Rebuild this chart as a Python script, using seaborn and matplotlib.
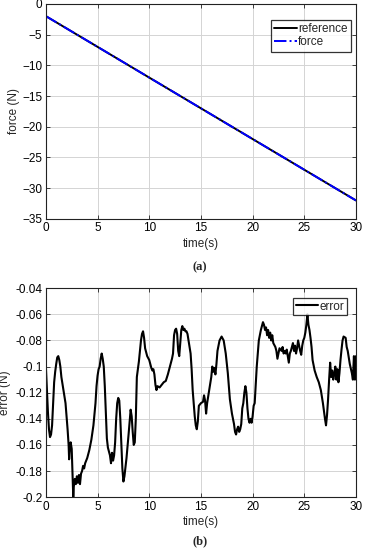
import numpy as np
import pandas as pd
import matplotlib
matplotlib.use("Agg")
import matplotlib.pyplot as plt
import seaborn as sns

# panel (a): reference and measured force
time_a = [0, 5, 10, 15, 20, 25, 30]
reference = [-2, -7, -12, -17, -22, -27, -32]
force = [-2, -7, -12, -17, -22, -27, -32]

# panel (b): force tracking error (10 values per row)
time_b = [0.0, 0.1, 0.2, 0.3, 0.4, 0.5, 0.6, 0.7, 0.8, 0.9,
          1.0, 1.1, 1.2, 1.3, 1.4, 1.5, 1.7, 1.9, 2.0, 2.1,
          2.2, 2.25, 2.3, 2.4, 2.5, 2.55, 2.6, 2.65, 2.7, 2.8,
          2.9, 3.0, 3.1, 3.2, 3.3, 3.4, 3.5, 3.6, 3.7, 3.8,
          3.9, 4.0, 4.2, 4.4, 4.6, 4.8, 4.9, 5.0, 5.1, 5.2,
          5.3, 5.4, 5.5, 5.6, 5.7, 5.8, 5.9, 6.0, 6.2, 6.3,
          6.4, 6.5, 6.6, 6.7, 6.8, 6.9, 7.0, 7.1, 7.2, 7.3,
          7.4, 7.5, 7.6, 7.8, 8.0, 8.1, 8.2, 8.3, 8.4, 8.5,
          8.6, 8.7, 8.8, 9.0, 9.1, 9.2, 9.3, 9.4, 9.5, 9.6,
          9.8, 10.0, 10.1, 10.2, 10.3, 10.4, 10.5, 10.6, 10.7, 10.8,
          11.0, 11.2, 11.4, 11.6, 11.8, 12.0, 12.2, 12.3, 12.4, 12.5,
          12.6, 12.7, 12.8, 12.9, 13.0, 13.1, 13.2, 13.3, 13.4, 13.5,
          13.6, 13.7, 13.8, 14.0, 14.1, 14.2, 14.4, 14.5, 14.6, 14.7,
          14.8, 15.0, 15.2, 15.3, 15.4, 15.5, 15.6, 15.8, 16.0, 16.1,
          16.2, 16.3, 16.4, 16.5, 16.6, 16.8, 17.0, 17.2, 17.4, 17.6,
          17.8, 18.0, 18.1, 18.2, 18.3, 18.4, 18.5, 18.6, 18.7, 18.8,
          18.9, 19.0, 19.1, 19.2, 19.3, 19.4, 19.5, 19.6, 19.7, 19.8,
          19.9, 20.0, 20.1, 20.2, 20.4, 20.6, 20.8, 21.0, 21.1, 21.2,
          21.3, 21.4, 21.5, 21.6, 21.7, 21.8, 21.9, 22.0, 22.2, 22.3,
          22.4, 22.5, 22.6, 22.8, 22.9, 23.0, 23.1, 23.2, 23.3, 23.4,
          23.5, 23.6, 23.7, 23.8, 23.9, 24.0, 24.1, 24.2, 24.3, 24.4,
          24.5, 24.6, 24.7, 24.8, 24.9, 25.0, 25.1, 25.2, 25.3, 25.4,
          25.5, 25.6, 25.7, 25.8, 26.0, 26.2, 26.4, 26.6, 26.8, 27.0,
          27.1, 27.2, 27.3, 27.4, 27.5, 27.6, 27.7, 27.8, 27.9, 28.0,
          28.1, 28.2, 28.3, 28.4, 28.5, 28.6, 28.7, 28.8, 29.0, 29.1,
          29.2, 29.4, 29.6, 29.7, 29.8, 29.9, 30.0]
error = [-0.100, -0.118, -0.135, -0.148, -0.154, -0.152, -0.145, -0.128, -0.112, -0.104,
         -0.098, -0.093, -0.092, -0.095, -0.100, -0.108, -0.118, -0.128, -0.138, -0.148,
         -0.160, -0.171, -0.165, -0.158, -0.163, -0.175, -0.185, -0.200, -0.192, -0.186,
         -0.190, -0.184, -0.189, -0.183, -0.190, -0.182, -0.180, -0.176, -0.178, -0.174,
         -0.172, -0.170, -0.164, -0.156, -0.145, -0.128, -0.115, -0.107, -0.102, -0.100,
         -0.094, -0.090, -0.094, -0.100, -0.115, -0.135, -0.155, -0.162, -0.168, -0.174,
         -0.166, -0.172, -0.168, -0.158, -0.140, -0.128, -0.124, -0.126, -0.140, -0.160,
         -0.178, -0.188, -0.184, -0.170, -0.152, -0.142, -0.133, -0.138, -0.150, -0.160,
         -0.158, -0.140, -0.108, -0.096, -0.088, -0.080, -0.075, -0.073, -0.078, -0.086,
         -0.092, -0.095, -0.098, -0.101, -0.103, -0.102, -0.106, -0.114, -0.118, -0.115,
         -0.116, -0.114, -0.112, -0.111, -0.106, -0.100, -0.094, -0.090, -0.076, -0.072,
         -0.071, -0.075, -0.088, -0.092, -0.082, -0.072, -0.069, -0.072, -0.071, -0.073,
         -0.073, -0.075, -0.080, -0.090, -0.102, -0.118, -0.138, -0.145, -0.148, -0.142,
         -0.130, -0.128, -0.127, -0.122, -0.126, -0.136, -0.128, -0.118, -0.108, -0.100,
         -0.104, -0.101, -0.106, -0.098, -0.088, -0.080, -0.077, -0.080, -0.090, -0.105,
         -0.125, -0.136, -0.140, -0.144, -0.150, -0.152, -0.148, -0.146, -0.150, -0.148,
         -0.144, -0.132, -0.128, -0.120, -0.115, -0.120, -0.132, -0.140, -0.143, -0.140,
         -0.143, -0.138, -0.130, -0.128, -0.100, -0.080, -0.072, -0.066, -0.068, -0.072,
         -0.070, -0.076, -0.072, -0.078, -0.074, -0.080, -0.076, -0.082, -0.085, -0.088,
         -0.094, -0.090, -0.086, -0.088, -0.085, -0.090, -0.088, -0.090, -0.087, -0.092,
         -0.097, -0.090, -0.088, -0.085, -0.082, -0.088, -0.084, -0.090, -0.086, -0.080,
         -0.084, -0.088, -0.091, -0.084, -0.080, -0.078, -0.074, -0.068, -0.060, -0.068,
         -0.072, -0.078, -0.085, -0.095, -0.103, -0.108, -0.112, -0.118, -0.128, -0.140,
         -0.145, -0.137, -0.125, -0.110, -0.097, -0.108, -0.103, -0.110, -0.106, -0.100,
         -0.110, -0.102, -0.112, -0.105, -0.095, -0.087, -0.080, -0.077, -0.078, -0.085,
         -0.088, -0.098, -0.105, -0.110, -0.092, -0.110, -0.092]

df_a = pd.DataFrame({"time": time_a, "reference": reference, "force": force})
df_b = pd.DataFrame({"time": time_b, "error": error})

sns.set_style("whitegrid")
plt.rcParams['font.family'] = ['Liberation Sans', 'DejaVu Sans']
fs = 8.5

fig = plt.figure(figsize=(3.67, 5.5), dpi=100)
ax1 = fig.add_axes([0.125, 0.602, 0.845, 0.391])
ax2 = fig.add_axes([0.125, 0.096, 0.845, 0.38])


def matlab_style(ax):
    ax.grid(True, color="#d4d4d4", linewidth=0.7)
    for s in ax.spines.values():
        s.set_color("#222222")
        s.set_linewidth(0.8)
    ax.tick_params(direction="in", length=3, width=0.6, colors="#222222",
                   labelcolor="black", labelsize=fs, top=True, right=True,
                   bottom=True, left=True, pad=2.5)


# (a)
sns.lineplot(data=df_a, x="time", y="reference", ax=ax1, color="black",
             linewidth=1.4, label="reference")
sns.lineplot(data=df_a, x="time", y="force", ax=ax1, color="blue",
             linewidth=1.4, linestyle="-.", label="force")
ax1.set_xlim(0, 30)
ax1.set_ylim(-35, 0)
ax1.set_xticks(range(0, 31, 5))
ax1.set_yticks(range(-35, 1, 5))
ax1.set_xlabel("time(s)", fontsize=fs, labelpad=2.5)
ax1.set_ylabel("force (N)", fontsize=fs)
ax1.yaxis.set_label_coords(-0.084, 0.5)
matlab_style(ax1)
leg = ax1.legend(loc="upper right", bbox_to_anchor=(0.985, 0.926), fontsize=fs,
                 frameon=True, fancybox=False, edgecolor="black", borderpad=0.3,
                 handlelength=1.9, handletextpad=0.15, labelspacing=0.1,
                 borderaxespad=0)
leg.get_frame().set_linewidth(0.9)
fig.text(0.545, 1 - 267 / 550, "(a)", ha="center", va="center",
         family="Liberation Serif", fontsize=9, weight="bold")

# (b)
sns.lineplot(data=df_b, x="time", y="error", ax=ax2, color="black",
             linewidth=1.5, label="error")
ax2.set_xlim(0, 30)
ax2.set_ylim(-0.2, -0.04)
ax2.set_xticks(range(0, 31, 5))
ax2.set_yticks(np.arange(-0.2, -0.039, 0.02))
ax2.set_yticklabels(["-0.2", "-0.18", "-0.16", "-0.14", "-0.12", "-0.1",
                     "-0.08", "-0.06", "-0.04"])
ax2.set_xlabel("time(s)", fontsize=fs, labelpad=2.5)
ax2.set_ylabel("error (N)", fontsize=fs)
ax2.yaxis.set_label_coords(-0.113, 0.5)
matlab_style(ax2)
leg2 = ax2.legend(loc="upper right", bbox_to_anchor=(0.971, 0.952), fontsize=fs,
                  frameon=True, fancybox=False, edgecolor="black", borderpad=0.2,
                  handlelength=1.9, handletextpad=0.15, borderaxespad=0)
leg2.get_frame().set_linewidth(0.9)
fig.text(0.545, 1 - 541 / 550, "(b)", ha="center", va="center",
         family="Liberation Serif", fontsize=9, weight="bold")

fig.savefig("out.png", dpi=100)
